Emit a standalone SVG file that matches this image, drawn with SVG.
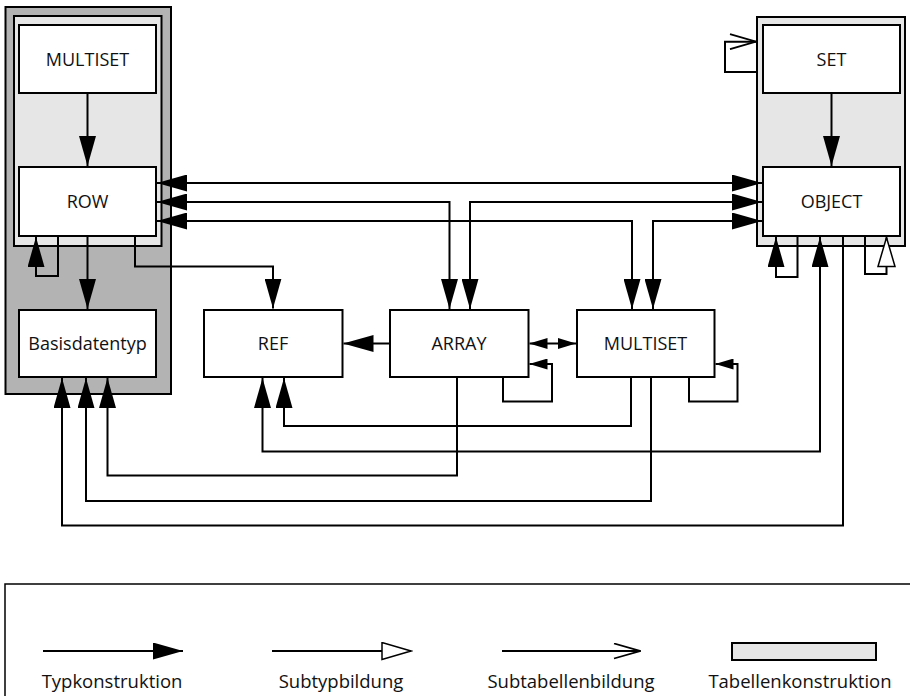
<svg xmlns="http://www.w3.org/2000/svg" width="910" height="696" viewBox="0 0 910 696">
  <style>
    .box { fill: #ffffff; stroke: #000000; stroke-width: 2; }
    .tbl-dark { fill: #b3b3b3; stroke: #000000; stroke-width: 2; }
    .tbl-light { fill: #e6e6e6; stroke: #000000; stroke-width: 2; }
    .lbl { font-family: "Open Sans", "Liberation Sans", sans-serif; font-size: 18px; fill: #111111; text-anchor: middle; }
    .leg { font-family: "Open Sans", "Liberation Sans", sans-serif; font-size: 18.5px; fill: #111111; text-anchor: middle; }
    .ln { fill: none; stroke: #000000; stroke-width: 2; }
    .typ { marker-end: url(#typ); }
    .typ2 { marker-start: url(#typ); marker-end: url(#typ); }
    .typs2 { marker-start: url(#typS); marker-end: url(#typS); }
    .typs { marker-end: url(#typS); }
    .sub { marker-end: url(#sub); }
    .tab { marker-end: url(#tab); }
  </style>
  <defs>
    <!-- filled head: type construction -->
    <marker id="typ" markerUnits="userSpaceOnUse" viewBox="0 0 30 17" refX="30" refY="8.5" markerWidth="30" markerHeight="17" orient="auto-start-reverse">
      <path d="M0,0 L30,8.5 L0,17 Z" fill="#000"/>
    </marker>
    <!-- small filled head -->
    <marker id="typS" markerUnits="userSpaceOnUse" viewBox="0 0 18 11" refX="18" refY="5.5" markerWidth="18" markerHeight="11" orient="auto-start-reverse">
      <path d="M0,0 L18,5.5 L0,11 Z" fill="#000"/>
    </marker>
    <!-- hollow triangle: subtype -->
    <marker id="sub" markerUnits="userSpaceOnUse" viewBox="-1 -1 32 19" refX="29" refY="8.5" markerWidth="32" markerHeight="19" orient="auto">
      <path d="M0,0 L29,8.5 L0,17 Z" fill="#fff" stroke="#000" stroke-width="1.5"/>
    </marker>
    <!-- open head: subtable -->
    <marker id="tab" markerUnits="userSpaceOnUse" viewBox="-1 -1 28 17" refX="26" refY="7.5" markerWidth="28" markerHeight="17" orient="auto">
      <path d="M0,0 L26,7.5 L0,15" fill="none" stroke="#000" stroke-width="1.8"/>
    </marker>
  </defs>

  <!-- table frames -->
  <rect x="5.5" y="7" width="165.5" height="387" class="tbl-dark"/>
  <rect x="14" y="16" width="147.5" height="230" class="tbl-light"/>
  <rect x="757" y="17" width="148" height="229" class="tbl-light"/>

  <g id="connectors">
    <path class="ln typ" d="M87.5,93 V166"/>
    <path class="ln typ" d="M87.5,236 V309"/>
    <path class="ln typ" d="M58,236 V276 H36 V237"/>
    <path class="ln typ" d="M135,236 V266.5 H273 V308.5"/>
    <path class="ln typ2" d="M157,183 H762"/>
    <path class="ln typ2" d="M157,202 H449.5 V309"/>
    <path class="ln typ2" d="M762,202 H470 V309"/>
    <path class="ln typ2" d="M157,221 H632 V309"/>
    <path class="ln typ2" d="M762,221 H653 V309"/>
    <path class="ln typ" d="M390,343.5 H343.5"/>
    <path class="ln typs2" d="M529.5,343.5 H576"/>
    <path class="ln typs" d="M503,378 V401.5 H552 V364 H529.5"/>
    <path class="ln typs" d="M689,378 V401.5 H737.5 V364 H715.5"/>
    <path class="ln typ" d="M631,378 V426 H284 V378"/>
    <path class="ln typ2" d="M262.5,378 V451.5 H820 V237"/>
    <path class="ln typ" d="M457,378 V475.5 H107.5 V378"/>
    <path class="ln typ" d="M651,378 V501 H86 V378"/>
    <path class="ln typ" d="M843,236 V525.5 H62 V378"/>
    <path class="ln typ" d="M831.5,93 V166"/>
    <path class="ln typ" d="M797.5,236 V277 H776 V237"/>
    <path class="ln sub" d="M865,236 V274 H886.5 V237.5"/>
    <path class="ln tab" d="M757,72 H725 V41.7 H756"/>
  </g>

  <g id="multiset-row-tbl">
    <rect x="19" y="25" width="137" height="68" class="box"/>
    <text x="87.5" y="65.5" class="lbl">MULTISET</text>
  </g>
  <g id="row">
    <rect x="19" y="167" width="137" height="69" class="box"/>
    <text x="87.5" y="208" class="lbl">ROW</text>
  </g>
  <g id="basisdatentyp">
    <rect x="19" y="310" width="137" height="67" class="box"/>
    <text x="87.5" y="350" class="lbl">Basisdatentyp</text>
  </g>
  <g id="set">
    <rect x="763" y="25" width="137" height="68" class="box"/>
    <text x="831.5" y="65.5" class="lbl">SET</text>
  </g>
  <g id="object">
    <rect x="763" y="167" width="137" height="69" class="box"/>
    <text x="831.5" y="208" class="lbl">OBJECT</text>
  </g>
  <g id="ref">
    <rect x="204" y="310" width="138.5" height="67" class="box"/>
    <text x="273" y="350" class="lbl">REF</text>
  </g>
  <g id="array">
    <rect x="390" y="310" width="138.5" height="67" class="box"/>
    <text x="459" y="350" class="lbl">ARRAY</text>
  </g>
  <g id="multiset">
    <rect x="577" y="310" width="137.5" height="67" class="box"/>
    <text x="645.5" y="350" class="lbl">MULTISET</text>
  </g>

  <g id="legend">
    <rect x="5" y="584" width="920" height="130" fill="none" stroke="#000" stroke-width="1.5"/>
    <path class="ln typ" d="M43,651 H183"/>
    <path class="ln sub" d="M272,651 H411"/>
    <path class="ln tab" d="M502,651 H640"/>
    <rect x="732" y="643" width="144" height="17" class="tbl-light"/>
    <text x="112" y="688" class="leg">Typkonstruktion</text>
    <text x="341" y="688" class="leg">Subtypbildung</text>
    <text x="571" y="688" class="leg">Subtabellenbildung</text>
    <text x="800" y="688" class="leg">Tabellenkonstruktion</text>
  </g>
</svg>
